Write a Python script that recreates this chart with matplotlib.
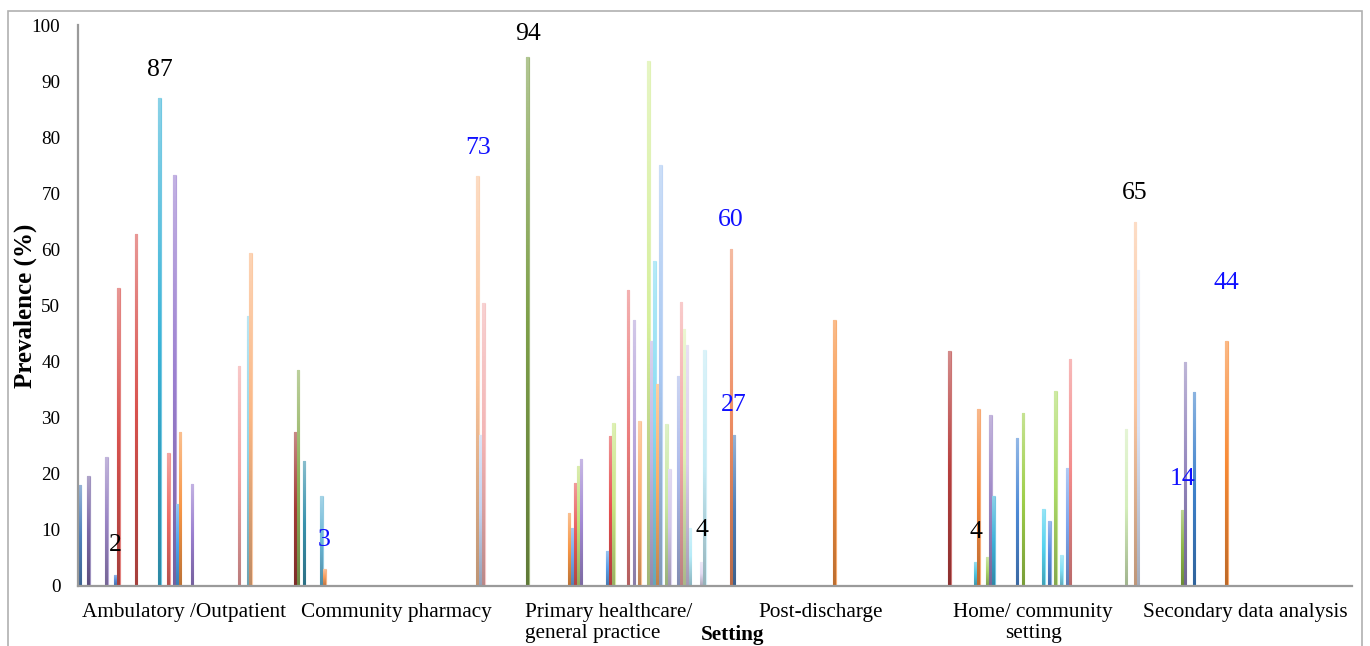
import numpy as np
import matplotlib
matplotlib.use("Agg")
import matplotlib.pyplot as plt
from matplotlib.colors import LinearSegmentedColormap, to_rgb, to_rgba
from matplotlib.patches import Rectangle

# ---------------- data ----------------
categories = ["Ambulatory /Outpatient", "Community pharmacy",
              "Primary healthcare/\ngeneral practice", "Post-discharge",
              "Home/ community\nsetting", "Secondary data analysis"]
n_series = 72  # series slots per category cluster

bar_category = [0]*15 + [1]*8 + [2]*26 + [3]*3 + [4]*17 + [5]*4
bar_series = [0, 3, 9, 12, 13, 19, 27, 30, 32, 33, 34, 38, 54, 57, 58,
              1, 2, 4, 10, 11, 63, 64, 65,
              8, 22, 23, 24, 25, 26, 35, 36, 37, 42, 44, 46, 49, 50, 51, 52, 53,
              55, 56, 59, 60, 61, 62, 63, 67, 68,
              5, 6, 40,
              7, 16, 17, 20, 21, 22, 30, 32, 39, 41, 43, 45, 47, 48, 67, 70, 71,
              14, 15, 18, 29]
prevalence = [18.0, 19.6, 23.0, 2.0, 53.2, 62.7, 87.0, 23.7, 73.3, 14.7, 27.5, 18.2, 39.2, 48.2, 59.4,
              27.5, 38.5, 22.3, 16.0, 3.0, 73.0, 27.0, 50.5,
              94.3, 13.0, 10.4, 18.4, 21.4, 22.7, 6.3, 26.8, 29.0, 52.8, 47.4, 29.4, 93.5, 43.7, 58.0, 36.0, 75.0,
              28.9, 20.9, 37.5, 50.7, 45.9, 42.9, 10.4, 4.3, 42.0,
              60.0, 26.9, 47.5,
              41.9, 4.2, 31.5, 5.1, 30.5, 16.0, 26.4, 30.8, 13.8, 11.6, 34.8, 5.6, 21.1, 40.4, 27.9, 64.8, 56.4,
              13.5, 39.9, 34.6, 43.7]
bar_colors = ['#4f81bd', '#7b68a6', '#9a85c4', '#5b8fd9', '#d9534f', '#d9534f', '#3cb4d8', '#ef6b64',
              '#9b7fd0', '#4ea6ee', '#f79646', '#9b7fd0', '#f4a3a3', '#8fd5ea', '#fbb784',
              '#a33b36', '#8fb05a', '#3a93ad', '#6ab7d6', '#f59a5a', '#fbc49a', '#c5d3f0', '#f3b3b3',
              '#7ea04a', '#f79646', '#6fa8ec', '#e85a5a', '#c2e07a', '#a38ad4', '#5b9ee8', '#e65050',
              '#c8e683', '#ec7d7d', '#b5a3da', '#fbad6e', '#d6ef9c', '#c2b5e2', '#86dcf3', '#fbae66',
              '#a9c8f2', '#c9e8a3', '#d2c6ea', '#abb9ea', '#f5a9a9', '#dff2b3', '#dacdec', '#b5ebf8',
              '#e3dbf2', '#c4ebf5',
              '#ee8d63', '#4f7fb8', '#f7903f',
              '#b8403f', '#4fc3dd', '#f58a3f', '#a8d46a', '#9d86c6', '#3fb2d9', '#4d8ad6', '#9fcf4a',
              '#55d3ef', '#5a8fe2', '#aedc68', '#80dff5', '#7ea6ee', '#f38b8b', '#d4eebb', '#fbc6a0',
              '#dbe4f7',
              '#8db64a', '#9385bd', '#3f82cc', '#f88a35']

label_text = ["2", "87", "3", "73", "94", "4", "60", "27", "4", "65", "14", "44"]
label_category = [0, 0, 1, 1, 2, 2, 3, 3, 4, 4, 5, 5]
label_series = [12, 27, 11, 63, 8, 67, 5, 6, 16, 70, 14, 29]
label_y = [7.3, 92.0, 8.2, 78.0, 98.4, 10.0, 65.2, 32.3, 9.6, 70.0, 19.0, 54.0]
label_color = ["black", "black", "blue", "blue", "black", "black", "blue", "blue",
               "black", "black", "blue", "blue"]

yticks = list(range(0, 101, 10))

# ---------------- figure ----------------
plt.rcParams['font.family'] = ['Liberation Serif', 'DejaVu Serif']
W, H = 1370, 646
fig = plt.figure(figsize=(W/100, H/100), dpi=100)
ax = fig.add_axes([78.4/W, 60/H, (1351.5-78.4)/W, (586-25)/H])

xpos = np.array(bar_category) + (np.array(bar_series) + 0.5) / n_series
bw = 0.9 / n_series
edge_cols = [to_rgba(c, 0.45) for c in bar_colors]
bars = ax.bar(xpos, prevalence, width=bw, color=bar_colors, edgecolor=edge_cols,
              linewidth=0.9, zorder=2)

grad = np.linspace(0, 1, 128).reshape(-1, 1)
for b, c in zip(bars, bar_colors):
    base = np.array(to_rgb(c))
    dark = base * 0.76
    light = base + (1 - base) * 0.4
    cmap = LinearSegmentedColormap.from_list('g', [dark, base, light])
    x0, w, h = b.get_x(), b.get_width(), b.get_height()
    im = ax.imshow(grad, extent=[x0, x0 + w, 0, h], origin='lower', cmap=cmap,
                   aspect='auto', interpolation='bilinear', zorder=3)
    im.set_clip_path(b)

for t, ci, si, yv, col in zip(label_text, label_category, label_series, label_y, label_color):
    ax.text(ci + (si + 0.5) / n_series, yv, t, ha='center', va='center',
            fontsize=18.5, color=col if col == 'black' else '#1010ff', zorder=5, clip_on=False)

ax.set_xlim(0, len(categories))
ax.set_ylim(0, 100)
ax.set_yticks(yticks)
ax.set_yticklabels([str(v) for v in yticks], fontsize=13.8)
ax.set_xticks(np.arange(len(categories)) + 0.5)
ax.set_xticklabels(categories, fontsize=15.3, multialignment='center')
for lbl in ax.get_xticklabels():
    if lbl.get_text().startswith("Primary"):
        lbl.set_multialignment('left')
ax.tick_params(axis='both', length=0)
ax.tick_params(axis='y', pad=13)
ax.tick_params(axis='x', pad=12)

for s in ['top', 'right']:
    ax.spines[s].set_visible(False)
for s in ['left', 'bottom']:
    ax.spines[s].set_color('#9a9a9a')
    ax.spines[s].set_linewidth(1.6)
ax.spines['bottom'].set_zorder(6)
ax.spines['left'].set_zorder(6)

ax.set_ylabel("Prevalence (%)", fontsize=18, fontweight='bold')
ax.yaxis.set_label_coords((37 - 78.4) / (1351.5 - 78.4), 0.5)
fig.text(733/W, 1 - 645/H, "Setting", ha='center', va='bottom', fontsize=15.3, fontweight='bold')

fig.patches.append(Rectangle((8/W, -0.05), (1362-8)/W, 1.05 - 11/H, transform=fig.transFigure,
                             fill=False, edgecolor='#b0b0b0', linewidth=1.2))

fig.savefig("out.png", dpi=100)
